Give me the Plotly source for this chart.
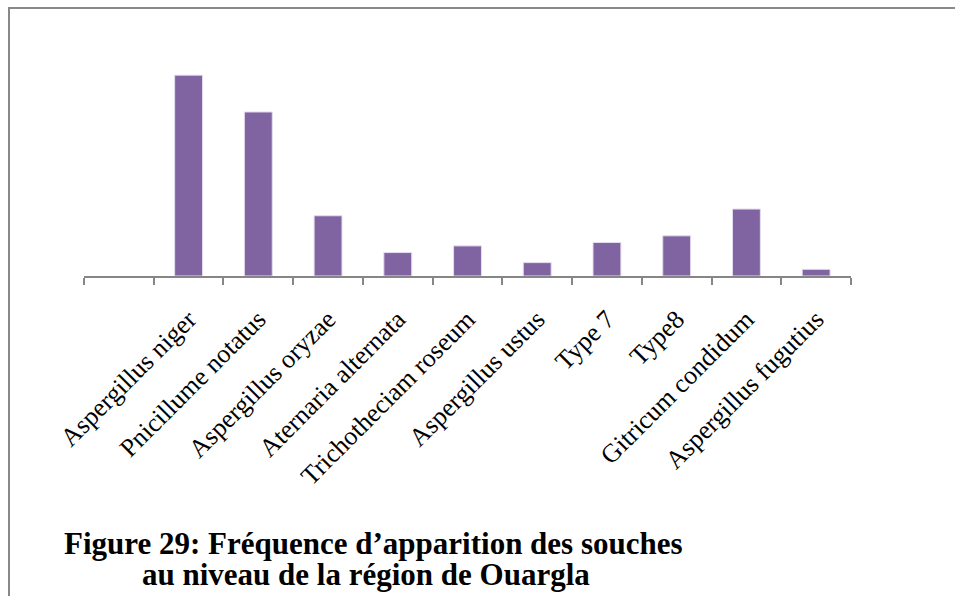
import plotly.graph_objects as go

# categories (first slot is empty in the original chart)
souches = [" ", "Aspergillus niger", "Pnicillume notatus", "Aspergillus oryzae",
           "Aternaria alternata", "Trichotheciam roseum", "Aspergillus ustus",
           "Type 7", "Type8", "Gitricum condidum", "Aspergillus fugutius"]
frequence = [None, 30, 24.5, 9, 3.5, 4.5, 2, 5, 6, 10, 1]

titre_1 = "Figure 29: Fréquence d’apparition des souches"
titre_2 = "au niveau de la région de Ouargla"

W, H = 955, 596
left, right, top, bottom = 84, 851, 35, 276
pw, ph = right - left, bottom - top


def px_x(x):
    return (x - left) / pw


def px_y(y):
    return (bottom - y) / ph


fig = go.Figure()
fig.add_trace(go.Bar(
    x=souches,
    y=frequence,
    marker=dict(color="#8064A2", line=dict(color="#E4DCEF", width=1)),
    showlegend=False,
))

fig.update_layout(
    width=W, height=H,
    margin=dict(l=left, r=W - right, t=top, b=H - bottom, pad=0),
    paper_bgcolor="white",
    plot_bgcolor="white",
    bargap=0.6,
    font=dict(family="Liberation Serif", color="black"),
    xaxis=dict(
        type="category",
        range=[-0.5, len(souches) - 0.5],
        showline=True, linecolor="#868686", linewidth=1.5,
        ticks="outside", tickson="boundaries", ticklen=7,
        tickcolor="#868686", tickwidth=1.5,
        tickangle=-45,
        ticklabelstandoff=16,
        tickfont=dict(family="Liberation Serif", size=26, color="black"),
        showgrid=False,
    ),
    yaxis=dict(
        range=[0, 36],
        visible=False,
        showgrid=False,
    ),
)

# outer frame
fig.add_shape(type="rect", xref="paper", yref="paper",
              x0=px_x(9), x1=px_x(975), y0=px_y(8), y1=px_y(620),
              line=dict(color="#888888", width=2), fillcolor="rgba(0,0,0,0)")

fig.add_annotation(text=titre_1, xref="paper", yref="paper",
                   x=px_x(62), y=px_y(543), xanchor="left", yanchor="middle",
                   showarrow=False,
                   font=dict(family="Liberation Serif", size=31, color="black", weight="bold"))
fig.add_annotation(text=titre_2, xref="paper", yref="paper",
                   x=px_x(140), y=px_y(574), xanchor="left", yanchor="middle",
                   showarrow=False,
                   font=dict(family="Liberation Serif", size=31, color="black", weight="bold"))

fig.write_html("out.html", config={"displayModeBar": False},
               post_script="document.body.style.margin='0';document.body.style.overflow='hidden';")
